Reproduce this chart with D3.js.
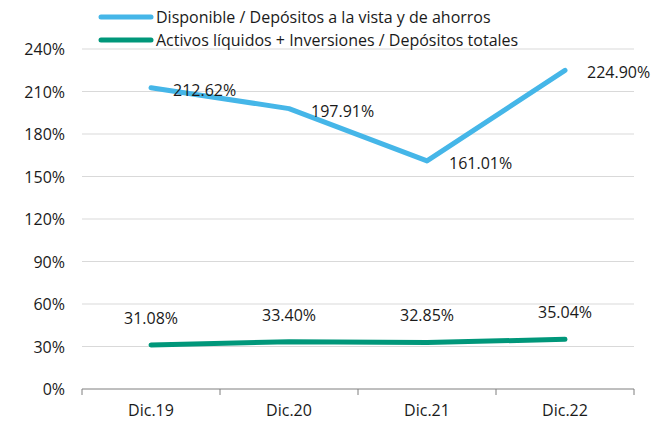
<!DOCTYPE html>
<html>
<head>
<meta charset="utf-8">
<script src="https://cdn.jsdelivr.net/npm/d3@7"></script>
<style>
  body { margin: 0; background: #fff; }
  text { font-family: "Open Sans", "Noto Sans", sans-serif; fill: #1a1a1a; }
</style>
</head>
<body>
<script>
var categories = ["Dic.19", "Dic.20", "Dic.21", "Dic.22"];
var seriesNames = ["Disponible / Depósitos a la vista y de ahorros",
                   "Activos líquidos + Inversiones / Depósitos totales"];
var disponible = [212.62, 197.91, 161.01, 224.90];
var activos = [31.08, 33.40, 32.85, 35.04];
var yTicks = [0, 30, 60, 90, 120, 150, 180, 210, 240];
var colors = ["#45b6e8", "#00977a"];

var width = 657, height = 427;
var svg = d3.select("body").append("svg")
  .attr("width", width)
  .attr("height", height);

var x = d3.scaleBand().domain(categories).range([82, 634]);
var y = d3.scaleLinear().domain([0, 240]).range([389, 49]);

// gridlines
svg.append("g").selectAll("line")
  .data(yTicks.filter(function(t){ return t > 0; }))
  .enter().append("line")
  .attr("x1", 82).attr("x2", 634)
  .attr("y1", function(d){ return y(d); })
  .attr("y2", function(d){ return y(d); })
  .attr("stroke", "#d9d9d9").attr("stroke-width", 1);

// y labels
svg.append("g").selectAll("text")
  .data(yTicks)
  .enter().append("text")
  .attr("x", 65)
  .attr("y", function(d){ return y(d) + 6; })
  .attr("text-anchor", "end")
  .attr("font-size", "16px")
  .text(function(d){ return d + "%"; });

// x axis
var xAxis = d3.axisBottom(x).tickSize(0).tickPadding(16);
var gx = svg.append("g").attr("transform", "translate(0,389)").call(xAxis);
gx.select(".domain").attr("stroke", "#7f7f7f").attr("d", "M82,0H634");
gx.selectAll("text").attr("font-size", "16px").attr("fill", "#1a1a1a")
  .style("font-family", "'Open Sans', 'Noto Sans', sans-serif");
var bounds = [82].concat(categories.map(function(c){ return x(c) + x.bandwidth(); }));
gx.selectAll("line.bound").data(bounds).enter().append("line")
  .attr("class", "bound")
  .attr("x1", function(d){ return d; }).attr("x2", function(d){ return d; })
  .attr("y1", 0).attr("y2", 6)
  .attr("stroke", "#7f7f7f");

var cx = function(i){ return x(categories[i]) + x.bandwidth() / 2; };
var line = d3.line()
  .x(function(d, i){ return cx(i); })
  .y(function(d){ return y(d); });

[disponible, activos].forEach(function(s, k){
  svg.append("path")
    .datum(s)
    .attr("d", line)
    .attr("fill", "none")
    .attr("stroke", colors[k])
    .attr("stroke-width", 5)
    .attr("stroke-linecap", "round")
    .attr("stroke-linejoin", "round");
});

var fmt = function(v){ return v.toFixed(2) + "%"; };

svg.append("g").selectAll("text")
  .data(disponible)
  .enter().append("text")
  .attr("x", function(d, i){ return cx(i) + 22; })
  .attr("y", function(d){ return y(d) + 8; })
  .attr("font-size", "16px")
  .text(fmt);

svg.append("g").selectAll("text")
  .data(activos)
  .enter().append("text")
  .attr("x", function(d, i){ return cx(i); })
  .attr("y", function(d){ return y(d) - 21; })
  .attr("text-anchor", "middle")
  .attr("font-size", "16px")
  .text(fmt);

// legend
var legend = svg.append("g").selectAll("g")
  .data(seriesNames)
  .enter().append("g")
  .attr("transform", function(d, i){ return "translate(0," + (17 + i * 23) + ")"; });
legend.append("line")
  .attr("x1", 101).attr("x2", 151)
  .attr("stroke", function(d, i){ return colors[i]; })
  .attr("stroke-width", 5)
  .attr("stroke-linecap", "round");
legend.append("text")
  .attr("x", 156).attr("y", 6)
  .attr("font-size", "16px")
  .text(function(d){ return d; });
</script>
</body>
</html>
